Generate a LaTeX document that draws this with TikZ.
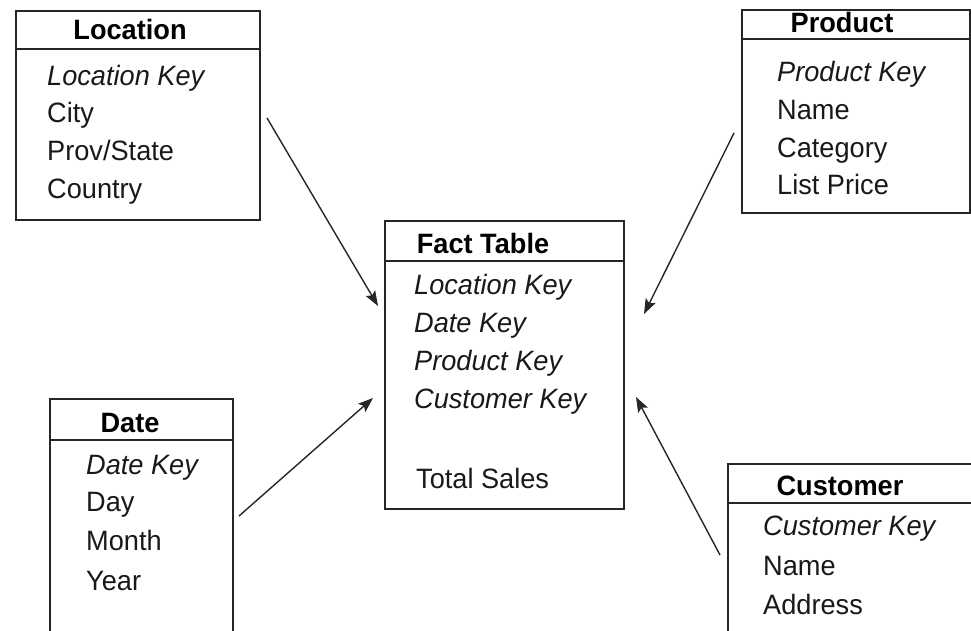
\documentclass[tikz,border=0pt]{standalone}
\usepackage{fontspec}
\setmainfont{Liberation Sans}[FakeStretch=0.97]
\usetikzlibrary{arrows.meta}
\begin{document}
\begin{tikzpicture}[x=1pt,y=-1pt,
  box/.style={draw=black!85, line width=1.8pt, rectangle, inner sep=0pt, anchor=north west},
  ttl/.style={font=\fontsize{28}{32}\selectfont\bfseries, anchor=base, inner sep=0pt},
  attr/.style={font=\fontsize{28}{32}\selectfont, anchor=base west, inner sep=0pt, text=black!90},
  fkey/.style={attr, font=\fontsize{28}{32}\selectfont\itshape},
  link/.style={line width=1.4pt, draw=black!85, -{Stealth[length=15pt,width=11pt,inset=3pt]}}
]
\useasboundingbox (0,0) rectangle (971,631);
\clip (0,0) rectangle (971,631);

% Location
\node[box, minimum width=244pt, minimum height=38pt] (loch) at (15,10) {};
\node[box, minimum width=244pt, minimum height=171pt] (locb) at (15,48) {};
\node[ttl] (loct) at (130,40) {Location};
\node[fkey] (loc1) at (47,86) {Location Key};
\node[attr] (loc2) at (47,123) {City};
\node[attr] (loc3) at (47,161) {Prov/State};
\node[attr] (loc4) at (47,199) {Country};

% Product
\node[box, minimum width=228pt, minimum height=29pt] (proh) at (741,9) {};
\node[box, minimum width=228pt, minimum height=174pt] (prob) at (741,38) {};
\node[ttl] (prot) at (842,33) {Product};
\node[fkey] (pro1) at (777,82) {Product Key};
\node[attr] (pro2) at (777,120) {Name};
\node[attr] (pro3) at (777,158) {Category};
\node[attr] (pro4) at (777,195) {List Price};

% Fact table
\node[box, minimum width=239pt, minimum height=40pt] (facth) at (384,220) {};
\node[box, minimum width=239pt, minimum height=248pt] (factb) at (384,260) {};
\node[ttl] (factt) at (483,253) {Fact Table};
\node[fkey] (fact1) at (414,294) {Location Key};
\node[fkey] (fact2) at (414,332) {Date Key};
\node[fkey] (fact3) at (414,370) {Product Key};
\node[fkey] (fact4) at (414,408) {Customer Key};
\node[attr] (fact5) at (416,488) {Total Sales};

% Date
\node[box, minimum width=183pt, minimum height=41pt] (dath) at (49,398) {};
\node[box, minimum width=183pt, minimum height=220pt] (datb) at (49,439) {};
\node[ttl] (datt) at (130,432) {Date};
\node[fkey] (dat1) at (86,474) {Date Key};
\node[attr] (dat2) at (86,511) {Day};
\node[attr] (dat3) at (86,550) {Month};
\node[attr] (dat4) at (86,590) {Year};

% Customer
\node[box, minimum width=260pt, minimum height=39pt] (cush) at (727,463) {};
\node[box, minimum width=260pt, minimum height=160pt] (cusb) at (727,502) {};
\node[ttl] (cust) at (840,495) {Customer};
\node[fkey] (cus1) at (763,535) {Customer Key};
\node[attr] (cus2) at (763,575) {Name};
\node[attr] (cus3) at (763,614) {Address};

% connectors
\coordinate (a1s) at (267,118); \coordinate (a1e) at (378,306);
\coordinate (a2s) at (734,133); \coordinate (a2e) at (644,314);
\coordinate (a3s) at (239,516); \coordinate (a3e) at (373,398);
\coordinate (a4s) at (720,555); \coordinate (a4e) at (636,397);
\draw[link] (a1s) -- (a1e);
\draw[link] (a2s) -- (a2e);
\draw[link] (a3s) -- (a3e);
\draw[link] (a4s) -- (a4e);
\end{tikzpicture}
\end{document}
